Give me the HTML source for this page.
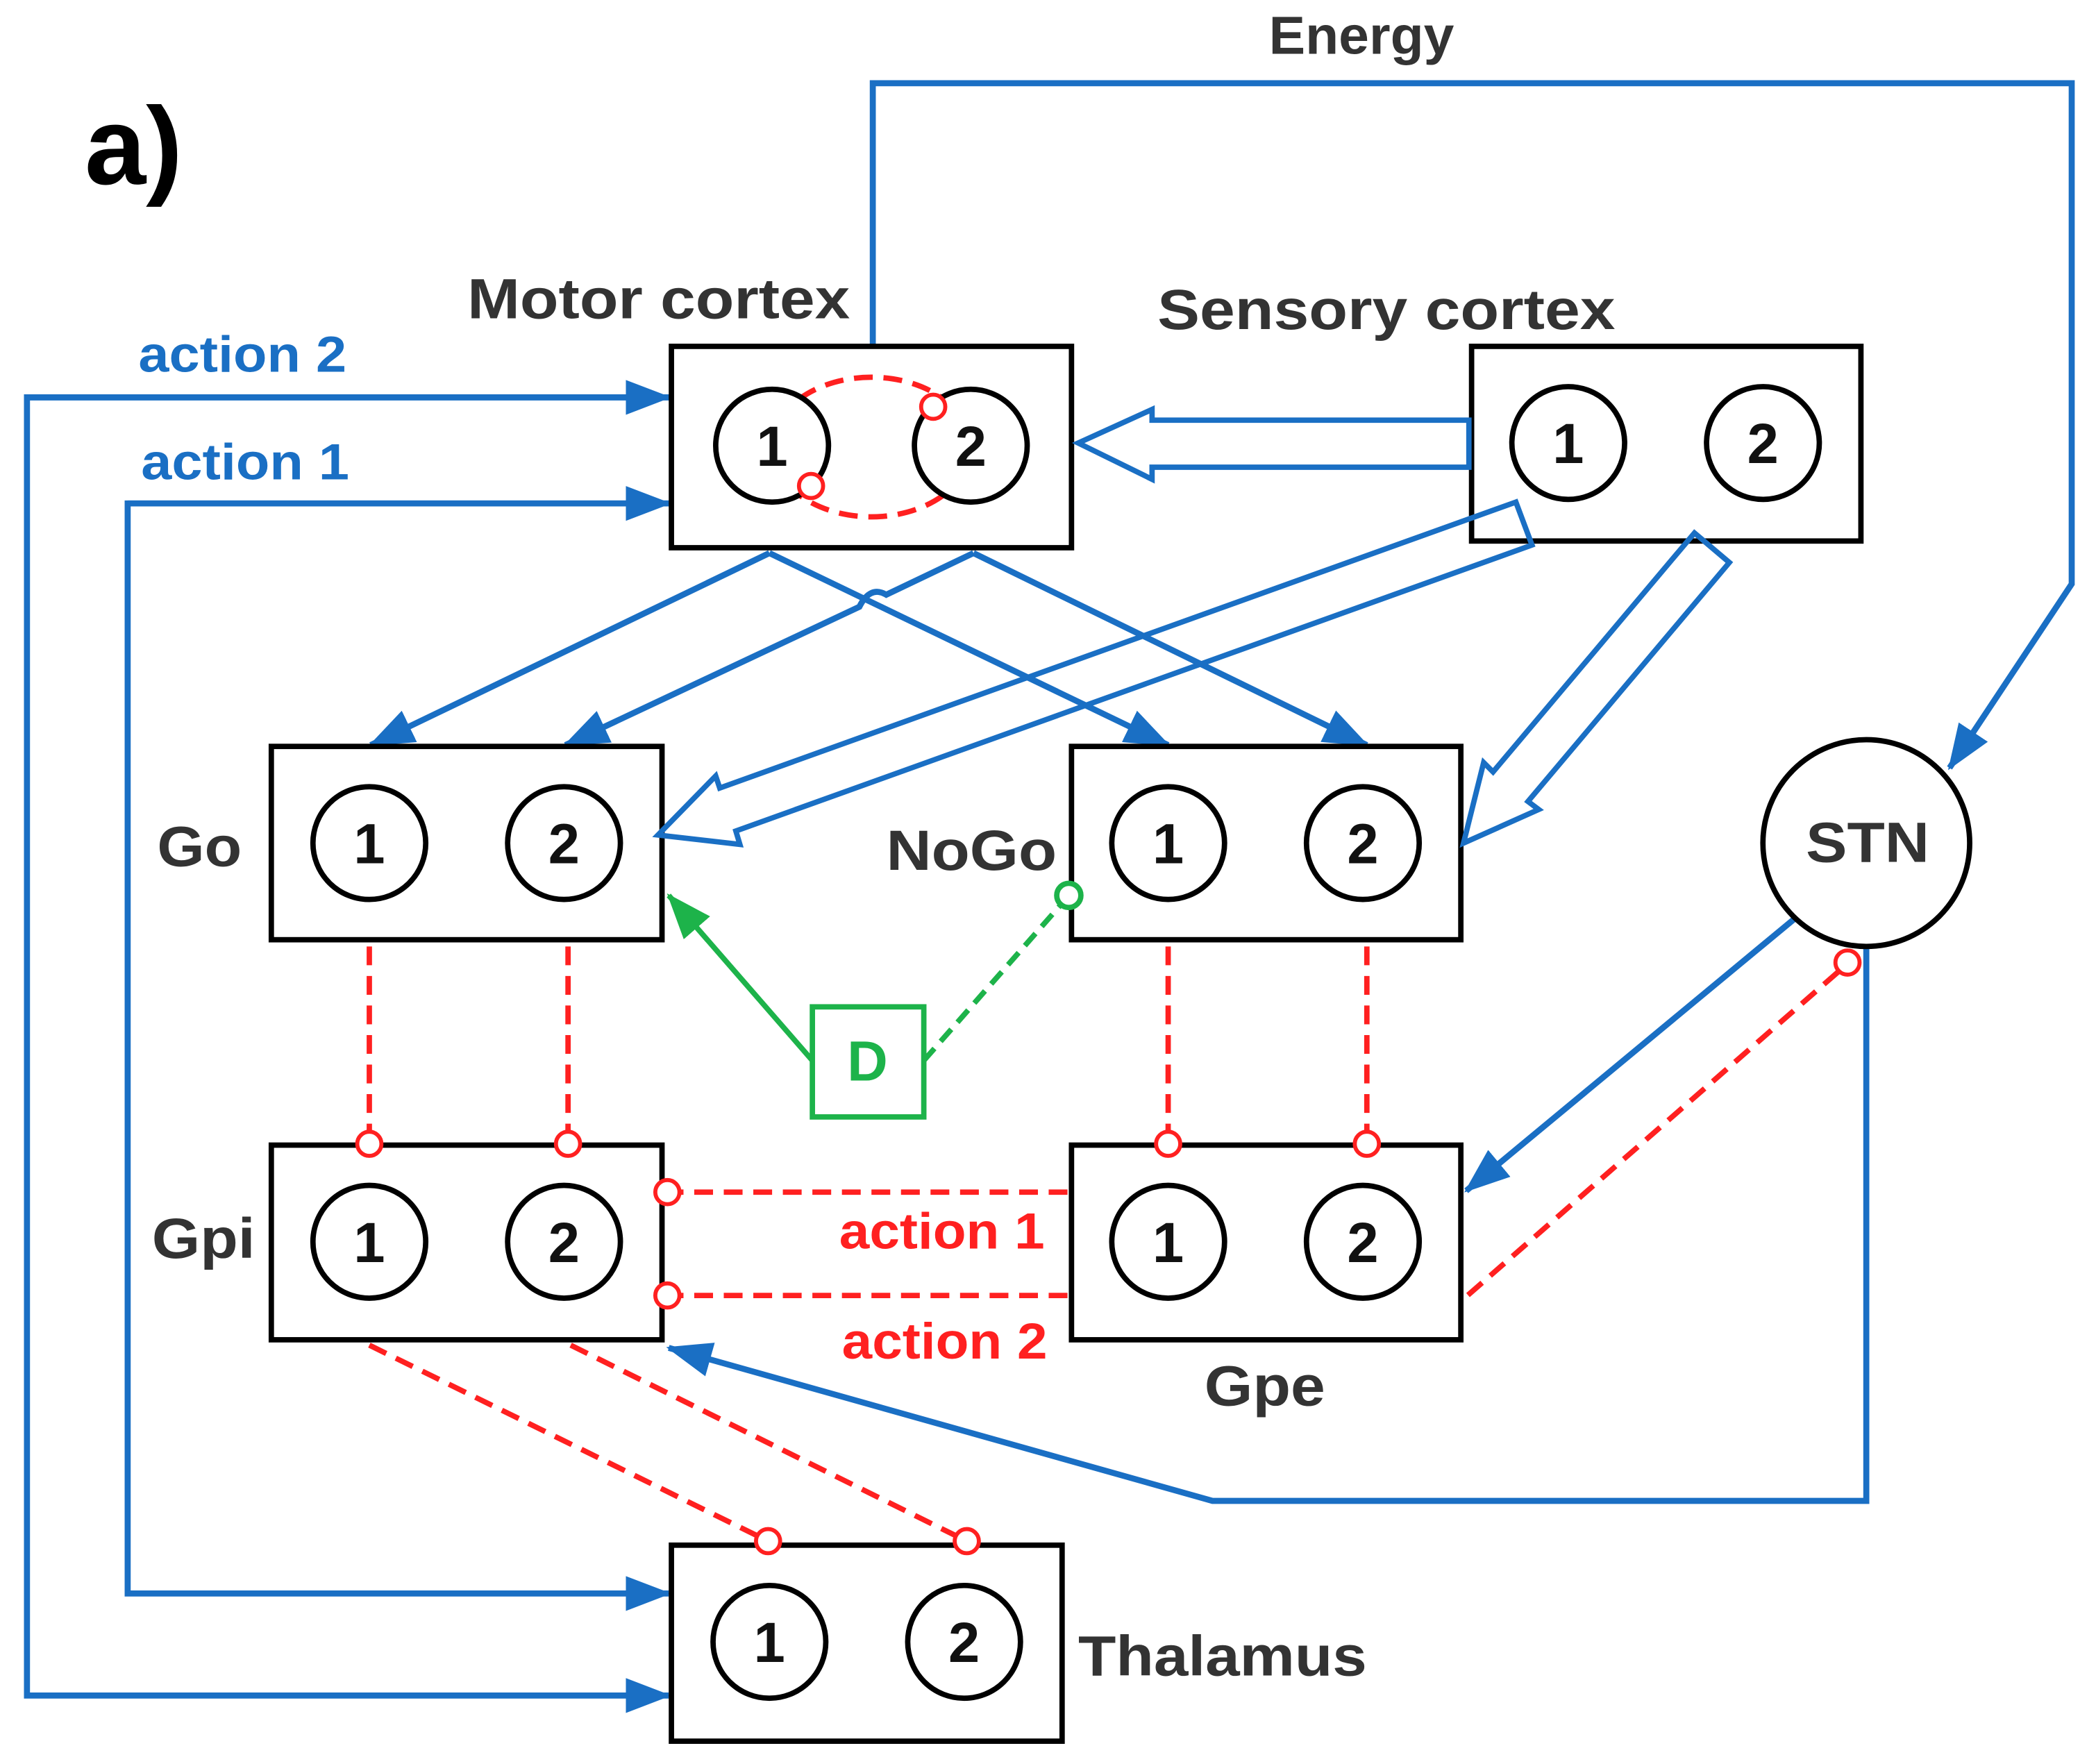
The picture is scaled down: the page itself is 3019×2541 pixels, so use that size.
<!DOCTYPE html>
<html><head><meta charset="utf-8"><style>
html,body{margin:0;padding:0;background:#fff;}
svg{display:block;}
text{font-family:"Liberation Sans",Arial,sans-serif;font-weight:bold;}
</style></head><body>
<svg width="3019" height="2541" viewBox="0 0 1561 1314" xmlns="http://www.w3.org/2000/svg">
<defs>
<marker id="ab" markerUnits="userSpaceOnUse" markerWidth="34" markerHeight="30" refX="32" refY="15" orient="auto"><path d="M0,2 L34,15 L0,28 z" fill="#1a6fc4"/></marker>
<marker id="ag" markerUnits="userSpaceOnUse" markerWidth="34" markerHeight="30" refX="32" refY="15" orient="auto"><path d="M0,2 L34,15 L0,28 z" fill="#1db34a"/></marker>
</defs>
<rect width="1561" height="1314" fill="#fff"/>
<text x="63" y="137" font-size="82" fill="#000">a)</text>
<text x="945" y="40" font-size="40" fill="#333" textLength="138" lengthAdjust="spacingAndGlyphs">Energy</text>
<text x="348" y="237" font-size="42" fill="#333" textLength="285" lengthAdjust="spacingAndGlyphs">Motor cortex</text>
<text x="862" y="245" font-size="42" fill="#333" textLength="341" lengthAdjust="spacingAndGlyphs">Sensory cortex</text>
<text x="117" y="645" font-size="42" fill="#333" textLength="63" lengthAdjust="spacingAndGlyphs">Go</text>
<text x="660" y="648" font-size="42" fill="#333" textLength="127" lengthAdjust="spacingAndGlyphs">NoGo</text>
<text x="113" y="937" font-size="42" fill="#333" textLength="77" lengthAdjust="spacingAndGlyphs">Gpi</text>
<text x="897" y="1047" font-size="42" fill="#333" textLength="90" lengthAdjust="spacingAndGlyphs">Gpe</text>
<text x="803" y="1248" font-size="42" fill="#333" textLength="215" lengthAdjust="spacingAndGlyphs">Thalamus</text>
<text x="1345" y="642" font-size="42" fill="#333" textLength="92" lengthAdjust="spacingAndGlyphs">STN</text>
<text x="103" y="277" font-size="38" fill="#1a6fc4" textLength="155" lengthAdjust="spacingAndGlyphs">action 2</text>
<text x="105" y="357" font-size="38" fill="#1a6fc4" textLength="155" lengthAdjust="spacingAndGlyphs">action 1</text>
<text x="625" y="930" font-size="38" fill="#ff2020" textLength="153" lengthAdjust="spacingAndGlyphs">action 1</text>
<text x="627" y="1012" font-size="38" fill="#ff2020" textLength="153" lengthAdjust="spacingAndGlyphs">action 2</text>

<g fill="none" stroke="#1a6fc4" stroke-width="4.5">
<polyline points="650,258 650,62 1543,62 1543,435 1452,572" marker-end="url(#ab)"/>
<polyline points="500,296 20,296 20,1263 498,1263" marker-end="url(#ab)"/>
<line x1="20" y1="296" x2="498" y2="296" marker-end="url(#ab)"/>
<polyline points="498,375 95,375 95,1187 498,1187" marker-end="url(#ab)"/>
<line x1="95" y1="375" x2="498" y2="375" marker-end="url(#ab)"/>
<line x1="573" y1="412" x2="276" y2="555" marker-end="url(#ab)"/>
<line x1="573" y1="412" x2="870" y2="555" marker-end="url(#ab)"/>
<path d="M725,412 L660,443 Q648,436 640,452 L421,555" marker-end="url(#ab)"/>
<line x1="725" y1="412" x2="1018" y2="555" marker-end="url(#ab)"/>
<line x1="1337" y1="684" x2="1092" y2="887" marker-end="url(#ab)"/>
<polyline points="1390,705 1390,1118 903,1118 498,1004" marker-end="url(#ab)"/>
</g>

<g fill="none" stroke="#ff2020" stroke-width="4" stroke-dasharray="14,8">
<line x1="275" y1="705" x2="275" y2="843"/>
<line x1="423" y1="705" x2="423" y2="843"/>
<line x1="870" y1="705" x2="870" y2="843"/>
<line x1="1018" y1="705" x2="1018" y2="843"/>
<line x1="795" y1="888" x2="506" y2="888"/>
<line x1="795" y1="965" x2="506" y2="965"/>
<line x1="275" y1="1002" x2="564" y2="1144"/>
<line x1="425" y1="1002" x2="712" y2="1144"/>
<line x1="1369" y1="724" x2="1093" y2="965"/>
</g>

<g fill="#fff" stroke="#000" stroke-width="4">
<rect x="500" y="258" width="298" height="150"/>
<rect x="1096" y="258" width="290" height="145"/>
<rect x="202" y="556" width="291" height="144"/>
<rect x="798" y="556" width="290" height="144"/>
<rect x="202" y="853" width="291" height="145"/>
<rect x="798" y="853" width="290" height="145"/>
<rect x="500" y="1151" width="291" height="146"/>
<circle cx="1390" cy="628" r="77" fill="none"/>
</g>
<ellipse cx="649" cy="333" rx="74" ry="52" fill="none" stroke="#ff2020" stroke-width="4" stroke-dasharray="14,8"/>
<g fill="none" stroke="#1a6fc4" stroke-width="4">
<polygon points="1094,313 858,313 858,305 803,330 858,357 858,348 1094,348" fill="#fff"/>
<polygon points="1129,374 536,587 533,578 490,622 551,629 548,619 1141,406"/>
<polygon points="1262,397 1112,575 1105,568 1090,628 1146,603 1138,597 1288,419"/>
</g>
<g fill="#fff" stroke="#000" stroke-width="4">
<circle cx="575" cy="332" r="42"/><circle cx="723" cy="332" r="42"/>
<circle cx="1168" cy="330" r="42"/><circle cx="1313" cy="330" r="42"/>
<circle cx="275" cy="628" r="42"/><circle cx="420" cy="628" r="42"/>
<circle cx="870" cy="628" r="42"/><circle cx="1015" cy="628" r="42"/>
<circle cx="275" cy="925" r="42"/><circle cx="420" cy="925" r="42"/>
<circle cx="870" cy="925" r="42"/><circle cx="1015" cy="925" r="42"/>
<circle cx="573" cy="1223" r="42"/><circle cx="718" cy="1223" r="42"/>
</g>
<g font-size="42" fill="#111" text-anchor="middle">
<text x="575" y="347">1</text><text x="723" y="347">2</text>
<text x="1168" y="345">1</text><text x="1313" y="345">2</text>
<text x="275" y="643">1</text><text x="420" y="643">2</text>
<text x="870" y="643">1</text><text x="1015" y="643">2</text>
<text x="275" y="940">1</text><text x="420" y="940">2</text>
<text x="870" y="940">1</text><text x="1015" y="940">2</text>
<text x="573" y="1238">1</text><text x="718" y="1238">2</text>
</g>

<g fill="#fff" stroke="#ff2020" stroke-width="3">
<circle cx="695" cy="303" r="9"/><circle cx="604" cy="362" r="9"/>
<circle cx="275" cy="852" r="9"/><circle cx="423" cy="852" r="9"/>
<circle cx="870" cy="852" r="9"/><circle cx="1018" cy="852" r="9"/>
<circle cx="497" cy="888" r="9"/><circle cx="497" cy="965" r="9"/>
<circle cx="572" cy="1148" r="9"/><circle cx="720" cy="1148" r="9"/>
<circle cx="1376" cy="717" r="9"/>
</g>

<g stroke="#1db34a" stroke-width="4" fill="none">
<line x1="605" y1="790" x2="498" y2="667" marker-end="url(#ag)"/>
<line x1="688" y1="790" x2="790" y2="674" stroke-dasharray="12,7"/>
<circle cx="796" cy="667" r="9" fill="#fff"/>
<rect x="605" y="750" width="83" height="82" fill="#fff"/>
</g>
<text x="646" y="805" font-size="42" fill="#1db34a" text-anchor="middle">D</text>
</svg>
</body></html>
